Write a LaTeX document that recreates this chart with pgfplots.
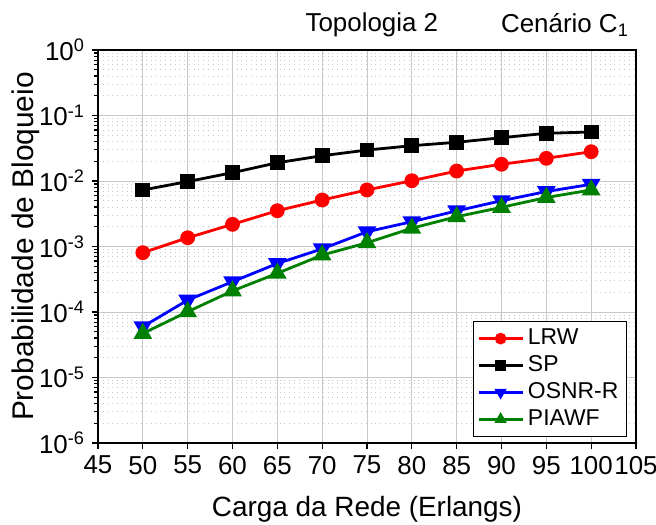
\documentclass[border=0pt]{standalone}
\usepackage{fontspec}
\setmainfont{Liberation Sans}
\usepackage{pgfplots}
\pgfplotsset{compat=1.18}
\definecolor{grn}{RGB}{0,128,0}
\definecolor{grd}{RGB}{200,200,200}

\begin{document}
\begin{tikzpicture}
\begin{semilogyaxis}[
    scale only axis,
    width=269bp, height=196.5bp,
    xmin=45, xmax=105,
    ymin=1e-6, ymax=1,
    xtick={45,50,...,105},
    ytick={1e-6,1e-5,1e-4,1e-3,1e-2,1e-1,1},
    yticklabels={10\textsuperscript{-6},10\textsuperscript{-5},10\textsuperscript{-4},10\textsuperscript{-3},10\textsuperscript{-2},10\textsuperscript{-1},10\textsuperscript{0}},
    /pgf/number format/assume math mode=true,
    tick label style={font=\fontsize{13}{15}\selectfont},
    xlabel style={font=\fontsize{14}{16}\selectfont, yshift=-4bp},
    ylabel style={font=\fontsize{15}{17}\selectfont, yshift=-7bp},
    xlabel={Carga da Rede (Erlangs)},
    ylabel={Probabilidade de Bloqueio},
    tick align=outside,
    xtick pos=bottom, ytick pos=left,
    major tick length=3bp, minor tick length=2bp,
    axis line style={line width=0.8bp},
    every tick/.style={black, line width=0.6bp},
    grid=both,
    xminorgrids=false,
    major grid style={grd, line width=0.5bp},
    minor grid style={grd, dotted, line width=0.5bp},
    clip=false,
    legend style={at={(0.983,0.015)}, anchor=south east, draw=black,
        font=\fontsize{11.5}{13}\selectfont, row sep=0bp,
        inner sep=2bp, line width=0.5bp},
    legend cell align=left,
    legend image code/.code={
        \draw[mark repeat=2, mark phase=2, mark size=2.2bp]
        plot coordinates {(0bp,0bp) (11bp,0bp) (22bp,0bp)};},
    every axis plot/.append style={line width=1.4bp},
]
\addplot[red, mark=*, mark size=3bp] coordinates {
(50,8.05e-4) (55,1.36e-3) (60,2.18e-3) (65,3.52e-3) (70,5.13e-3) (75,7.3e-3)
(80,1.01e-2) (85,1.42e-2) (90,1.8e-2) (95,2.22e-2) (100,2.8e-2)};
\addlegendentry{LRW}
\addplot[black, mark=square*, mark size=3bp] coordinates {
(50,7.3e-3) (55,9.8e-3) (60,1.34e-2) (65,1.9e-2) (70,2.43e-2) (75,2.97e-2)
(80,3.46e-2) (85,3.9e-2) (90,4.58e-2) (95,5.35e-2) (100,5.6e-2)};
\addlegendentry{SP}
\addplot[blue, mark=triangle*, mark size=4bp, mark options={rotate=180}] coordinates {
(50,5.97e-5) (55,1.52e-4) (60,2.9e-4) (65,5.5e-4) (70,9.2e-4) (75,1.68e-3)
(80,2.39e-3) (85,3.5e-3) (90,5.0e-3) (95,6.9e-3) (100,8.9e-3)};
\addlegendentry{OSNR-R}
\addplot[grn, mark=triangle*, mark size=4bp] coordinates {
(50,4.7e-5) (55,1.01e-4) (60,2.1e-4) (65,3.9e-4) (70,7.4e-4) (75,1.14e-3)
(80,1.9e-3) (85,2.85e-3) (90,3.96e-3) (95,5.6e-3) (100,7.3e-3)};
\addlegendentry{PIAWF}
\node[font=\fontsize{13}{15}\selectfont] at (rel axis cs:0.509,1.064) {Topologia 2};
\node[font=\fontsize{13}{15}\selectfont] at (rel axis cs:0.868,1.064) {Cenário C\textsubscript{1}};
\end{semilogyaxis}
\pgfresetboundingbox
\path[use as bounding box] (current axis.south west) ++(-49bp,-41bp) rectangle ++(328bp,262.5bp);
\end{tikzpicture}
\end{document}
